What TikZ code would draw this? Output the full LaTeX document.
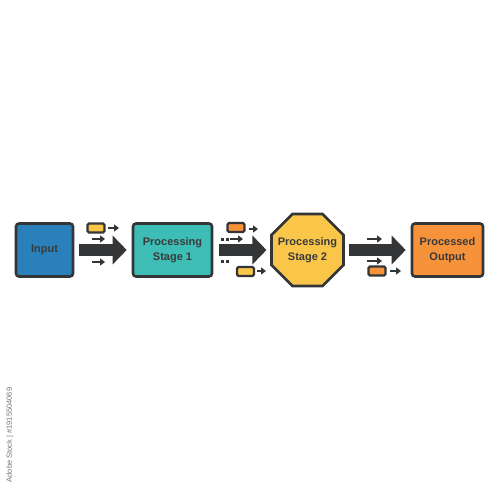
\documentclass[tikz,border=0pt]{standalone}
\usepackage{fontspec}
\setmainfont{Liberation Sans}
\usetikzlibrary{shapes.geometric,arrows.meta}
\definecolor{dk}{HTML}{343536}
\definecolor{txt}{HTML}{3A3A3A}
\definecolor{cblue}{HTML}{2A80BA}
\definecolor{cteal}{HTML}{3DBDB5}
\definecolor{cyel}{HTML}{FAC64A}
\definecolor{corg}{HTML}{F6923A}
\tikzset{
  lbl/.style={font=\fontsize{11}{14.5}\selectfont\bfseries,text=txt,align=center},
  bx/.style={draw=dk,line width=2.6pt,rounded corners=3pt,minimum width=57pt,minimum height=53pt,inner sep=0pt,lbl},
  tag/.style={draw=dk,line width=2.2pt,rounded corners=1.5pt,minimum width=17pt,minimum height=9pt,inner sep=0pt},
  bigarrow/.style={draw=dk,line width=12pt,-{Triangle[length=14pt,width=28pt]}},
  smallarrow/.style={draw=dk,line width=2.4pt,-{Triangle[length=5pt,width=7pt]}},
  dot/.style={fill=dk,minimum width=3pt,minimum height=3pt,inner sep=0pt},
}
\begin{document}
\begin{tikzpicture}[x=1pt,y=-1pt]
\useasboundingbox[fill=white] (0,0) rectangle (500,500);
% main nodes
\node[bx,fill=cblue,minimum width=57pt] (in) at (44.5,250) {Input};
\node[bx,fill=cteal,minimum width=79pt] (s1) at (172.5,250) {Processing\\Stage 1};
\node[draw=dk,line width=2.6pt,fill=cyel,regular polygon,regular polygon sides=8,
  minimum size=78pt,inner sep=0pt,outer sep=0pt] (s2) at (307.5,250) {};
\node[lbl] (s2l) at (s2.center) {Processing\\Stage 2};
\node[bx,fill=corg,minimum width=71pt] (out) at (447.5,250) {Processed\\Output};
% big arrows
\draw[bigarrow] ([xshift=5pt]in.east) -- ([xshift=-5pt]s1.west);
\draw[bigarrow] ([xshift=6pt]s1.east) -- ([xshift=-5pt]s2.west);
\draw[bigarrow] ([xshift=5pt]s2.east) -- ([xshift=-5pt]out.west);
% group 1
\node[tag,fill=cyel] (t1) at (96,228) {};
\draw[smallarrow] (108,228) -- (119,228);
\draw[smallarrow] (92,239) -- (105,239);
\draw[smallarrow] (92,262) -- (105,262);
% group 2
\node[tag,fill=corg] (t2) at (236,227.5) {};
\draw[smallarrow] (249,229) -- (258,229);
\node[dot] (d1) at (222.5,239) {};
\node[dot] (d2) at (227,239) {};
\draw[smallarrow] (230,239) -- (243,239);
\node[dot] (d3) at (222.5,261) {};
\node[dot] (d4) at (227.5,261) {};
\node[tag,fill=cyel] (t3) at (245.5,271.5) {};
\draw[smallarrow] (257,271) -- (266,271);
% group 3
\draw[smallarrow] (367,239) -- (382,239);
\draw[smallarrow] (367,261) -- (382,261);
\node[tag,fill=corg] (t4) at (377,271) {};
\draw[smallarrow] (390,271) -- (401,271);
% side text
\node[rotate=90,text=black!55,font=\fontsize{7.5}{8}\selectfont] (wm) at (10,435) {Adobe Stock | \#1915504069};
\end{tikzpicture}
\end{document}
